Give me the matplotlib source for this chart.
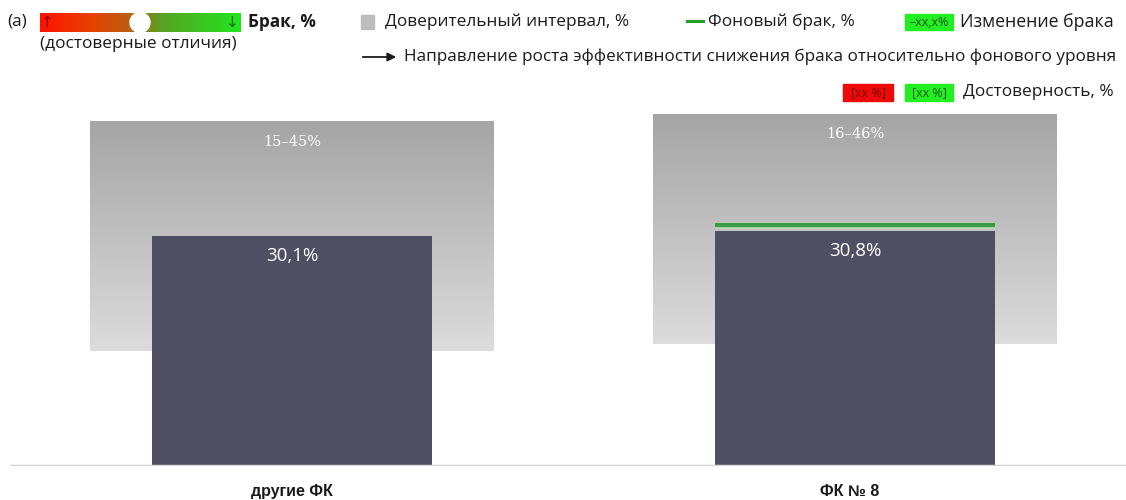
import numpy as np
import matplotlib
matplotlib.use("Agg")
import matplotlib.pyplot as plt
from matplotlib.colors import LinearSegmentedColormap
from matplotlib.patches import Rectangle, Circle, FancyArrowPatch

# Data
categories = ["другие ФК", "ФК № 8"]
defect_rate = [30.1, 30.8]          # брак, %
ci_low = [15, 16]                   # доверительный интервал, нижняя граница, %
ci_high = [45, 46]                  # доверительный интервал, верхняя граница, %
background_rate = [None, 31.6]      # фоновый брак, %

W, H = 1126, 500
fig = plt.figure(figsize=(W / 100, H / 100), dpi=100)
fig.patch.set_facecolor("white")

TXT = ["Open Sans", "DejaVu Sans"]
DARK = "#1a1a1a"
FS = 12.4


def fx(x):
    return x / W


def fy(y):
    return 1 - y / H


# ---- main plot ----
px_per_unit = 7.64
ax_left, ax_right, ax_top, ax_base = 10, 1126, 100, 466
ax = fig.add_axes([fx(ax_left), fy(ax_base), (ax_right - ax_left) / W, (ax_base - ax_top) / H])
x = np.arange(len(categories))
spacing = 563.0
x0 = -(292 - ax_left) / spacing
ax.set_xlim(x0, x0 + (ax_right - ax_left) / spacing)
ax.set_ylim(0, (ax_base - ax_top) / px_per_unit)
ax.axis("off")

bar_w = 0.497
box_w = 0.716
grad_cmap = LinearSegmentedColormap.from_list("ci", ["#a5a5a5", "#dcdcdc"])
grad = np.linspace(0, 1, 256).reshape(-1, 1)

for i in range(len(categories)):
    # confidence interval band with vertical gradient
    ax.imshow(grad, cmap=grad_cmap, aspect="auto", origin="upper",
              extent=[x[i] - box_w / 2, x[i] + box_w / 2, ci_low[i], ci_high[i]],
              zorder=1, interpolation="bilinear")
    ax.text(x[i], ci_high[i] - 2.6, f"{ci_low[i]}–{ci_high[i]}%", ha="center", va="center",
            color="white", fontsize=10.5, family=["DejaVu Serif"], zorder=4)
    # bar
    ax.bar(x[i], defect_rate[i], width=bar_w, color="#4f4f63", zorder=2)
    ax.text(x[i], defect_rate[i] - 2.6, f"{defect_rate[i]:.1f}%".replace(".", ","),
            ha="center", va="center", color="white", fontsize=13.5, family=TXT, zorder=4)
    # background level
    if background_rate[i] is not None:
        ax.plot([x[i] - bar_w / 2, x[i] + bar_w / 2], [background_rate[i]] * 2,
                color="#b9d9b4", lw=5, solid_capstyle="butt", zorder=3)
        ax.plot([x[i] - bar_w / 2, x[i] + bar_w / 2], [background_rate[i]] * 2,
                color="#3a9a45", lw=3, solid_capstyle="butt", zorder=3)

ax.axhline(0, color="#d4d4d4", lw=2.5, zorder=5)

label_dx = [0, -0.01]
for i, c in enumerate(categories):
    ax.text(x[i] + label_dx[i], -3.4, c, ha="center", va="center", fontsize=11.5,
            fontweight="bold",
            family=["Liberation Sans Narrow", "Liberation Sans", "DejaVu Sans"], color=DARK,
            clip_on=False)

# ---- legend / header ----
fig.text(fx(7), fy(22), "(a)", ha="left", va="center", fontsize=FS, family=TXT, color=DARK)

cb_ax = fig.add_axes([fx(40), fy(32), 200 / W, 19 / H])
cb_cmap = LinearSegmentedColormap.from_list(
    "scale", [(0.0, "#ff1200"), (0.25, "#e84000"), (0.45, "#b86010"),
              (0.6, "#5aa022"), (1.0, "#1ee81e")])
cb_ax.imshow(np.linspace(0, 1, 256).reshape(1, -1), cmap=cb_cmap, aspect="auto",
             extent=[0, 200, 0, 19])
cb_ax.set_xlim(0, 200)
cb_ax.set_ylim(0, 19)
cb_ax.add_patch(Circle((100, 9.5), 10, color="white", zorder=3, clip_on=False))
cb_ax.axis("off")
cb_ax.text(7, 9.5, "↑", ha="center", va="center", fontsize=11, color="#8b0000", family=["DejaVu Sans"])
cb_ax.text(192, 9.5, "↓", ha="center", va="center", fontsize=11, color="#1d6b1d", family=["DejaVu Sans"])

fig.text(fx(248), fy(22), "Брак, %", ha="left", va="center", fontsize=FS, fontweight="bold",
         family=TXT, color=DARK)
fig.text(fx(40), fy(44), "(достоверные отличия)", ha="left", va="center", fontsize=FS,
         family=TXT, color=DARK)

# confidence interval swatch
fig.patches.append(Rectangle((fx(361), fy(29)), 13 / W, 14 / H, transform=fig.transFigure,
                             color="#bdbdbd", figure=fig))
fig.text(fx(385), fy(22), "Доверительный интервал, %", ha="left", va="center", fontsize=FS,
         family=TXT, color=DARK)

# background rate swatch
fig.add_artist(plt.Line2D([fx(687), fx(703)], [fy(21), fy(21)], transform=fig.transFigure,
                          color="#22a022", lw=2.2))
fig.text(fx(708), fy(22), "Фоновый брак, %", ha="left", va="center", fontsize=FS,
         family=TXT, color=DARK)


def swatch(x_left, x_right, y_top, y_bot, fc, label, tc):
    fig.patches.append(Rectangle((fx(x_left), fy(y_bot)), (x_right - x_left) / W,
                                 (y_bot - y_top) / H, transform=fig.transFigure,
                                 color=fc, figure=fig))
    fig.text(fx((x_left + x_right) / 2), fy((y_top + y_bot) / 2), label, ha="center",
             va="center", fontsize=9, family=TXT, color=tc)


# change of defect rate swatch
swatch(905, 953, 14, 30, "#22ee22", "–xx,x%", "#1a5a1a")
fig.text(fx(960), fy(22), "Изменение брака", ha="left", va="center", fontsize=12.8,
         family=TXT, color=DARK)

# direction arrow
fig.add_artist(FancyArrowPatch(
    (fx(360), fy(57)), (fx(399), fy(57)), transform=fig.transFigure,
    arrowstyle="-|>,head_length=5,head_width=2.5", color=DARK, lw=1.3))
fig.text(fx(404), fy(57),
         "Направление роста эффективности снижения брака относительно фонового уровня",
         ha="left", va="center", fontsize=12.3, family=TXT, color=DARK)

# significance swatches
swatch(843, 893, 84, 101, "#ee0a0a", "[xx %]", "#7a0000")
swatch(905, 953, 84, 101, "#22ee22", "[xx %]", "#1a5a1a")
fig.text(fx(963), fy(92), "Достоверность, %", ha="left", va="center", fontsize=FS,
         family=TXT, color=DARK)

fig.savefig("out.png", dpi=100, facecolor="white")
